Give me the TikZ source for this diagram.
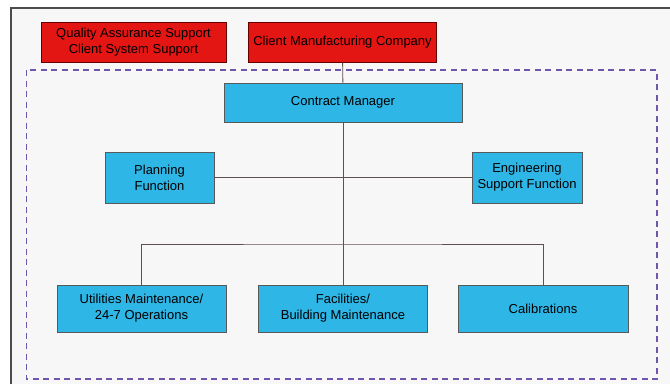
\documentclass[tikz,border=0pt]{standalone}
\usepackage{fontspec}
\setmainfont{Liberation Sans}
\usetikzlibrary{positioning,calc}
\definecolor{boxred}{RGB}{228,22,20}
\definecolor{boxblue}{RGB}{46,182,230}
\definecolor{dashpurple}{RGB}{112,86,170}
\definecolor{linegray}{RGB}{92,80,80}

\begin{document}
\begin{tikzpicture}[x=1pt,y=-1pt,
  every node/.style={align=center,inner sep=0pt,font=\fontsize{13}{16}\selectfont},%
  r/.style={fill=boxred,draw=red!40!black,line width=.8pt,minimum height=40pt},%
  b/.style={fill=boxblue,draw=black!65,line width=.8pt},%
  e/.style={draw=linegray,line width=.9pt},%
  frame/.style={draw=black!70,line width=1.2pt},%
  dsh/.style={draw=dashpurple,line width=1.3pt,dash pattern=on 6pt off 4.5pt},%
  ]
  \useasboundingbox (0,0) rectangle (670,384);
  \fill[black!3] (11,8) rectangle (670,384);
  \draw[frame] (11,384) -- (11,8) -- (670,8);
  \draw[dsh] (26.5,70) rectangle (657,379);

  \node (qa) [r,minimum width=185pt] at (133.5,42.5) {Quality Assurance Support\\Client System Support};
  \node (client) [r,minimum width=188pt] at (342.5,42.5) {Client Manufacturing Company};
  \node (cm) [b,minimum width=238pt,minimum height=39pt] at (343,102.5) {Contract Manager};
  \node (plan) [b,minimum width=109pt,minimum height=51pt] at (159.5,177.5) {Planning\\Function};
  \node (eng) [b,minimum width=110pt,minimum height=51pt] at (527,177.5) {Engineering\\Support Function};
  \node (util) [b,minimum width=169pt,minimum height=47pt] at (141.5,308.5) {Utilities Maintenance/\\24-7 Operations};
  \node (fac) [b,minimum width=169pt,minimum height=47pt] at (343,308.5) {Facilities/\\Building Maintenance};
  \node (cal) [b,minimum width=170pt,minimum height=47pt] at (543,308.5) {Calibrations};
  \coordinate (bus) at (343,244);

  \draw [e] (client) -- (cm);
  \draw [e] (cm) -- (fac);
  \draw [e] (plan) -- (eng);
  \draw [e] (util.north) |- (bus) -| (cal.north);
\end{tikzpicture}
\end{document}
